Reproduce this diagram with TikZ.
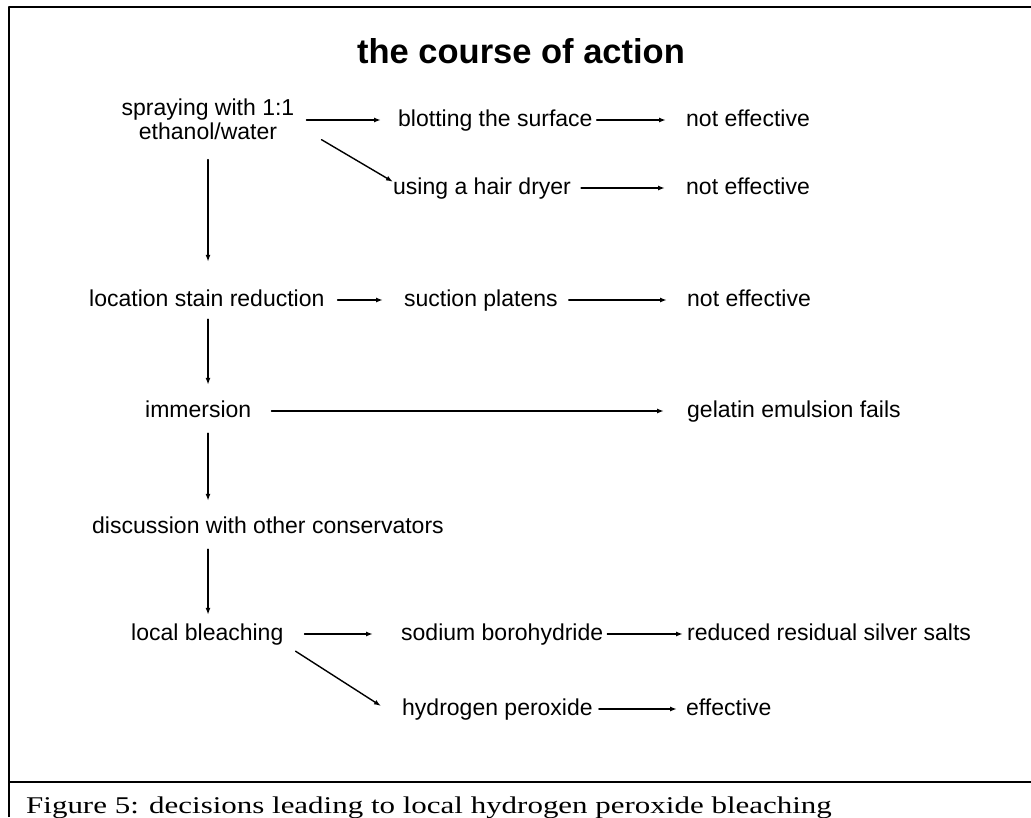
\documentclass[tikz,border=0pt]{standalone}
\usepackage{graphicx}
\usepackage{fontspec}
\setmainfont{Liberation Sans}
\newfontfamily\captionfont{Liberation Serif}
\usetikzlibrary{arrows.meta,positioning}

\begin{document}
\begin{tikzpicture}[x=1pt,y=-1pt,>=Latex,line cap=round,line join=round]
\useasboundingbox[fill=white] (0,0) rectangle (1031,817);
\tikzset{act/.style={anchor=west,inner sep=0pt,font=\fontsize{23}{24}\selectfont,text height=17pt,text depth=5pt},go/.style={draw,line width=1.4pt,-{Latex[length=7pt,width=5pt]}},frame/.style={draw,line width=2pt,line cap=butt}}
\draw[frame] (9,817) -- (9,7) -- (1031,7);
\draw[frame] (9,782) -- (1031,782);
\node[anchor=base,inner sep=0pt,font=\bfseries\fontsize{34.5}{40}\selectfont] (title) at (521,63) {the course of action};
\node[align=center,inner sep=0pt,font=\fontsize{23}{24}\selectfont] (spray) at (208,119) {spraying with 1:1\\ethanol/water};
\node[act] (blot) at (398,120) {blotting the surface};
\node[act] (blotno) at (686,120) {not effective};
\node[act] (dryer) at (393,188) {using a hair dryer};
\node[act] (dryerno) at (686,188) {not effective};
\node[act] (locate) at (89,300) {location stain reduction};
\node[act] (suction) at (404,300) {suction platens};
\node[act] (suctionno) at (687,300) {not effective};
\node[act] (immerse) at (145,411) {immersion};
\node[act] (gelatin) at (687,411) {gelatin emulsion fails};
\node[act] (discuss) at (92,527) {discussion with other conservators};
\node[act] (bleach) at (131,634) {local bleaching};
\node[act] (borohyd) at (401,634) {sodium borohydride};
\node[act] (salts) at (687,634) {reduced residual silver salts};
\node[act] (peroxide) at (402,709) {hydrogen peroxide};
\node[act] (works) at (686,709) {effective};
\draw[go,shorten <=12pt,shorten >=17pt] (spray.east |- blot.west) -- (blot.west);
\draw[go,shorten <=4pt,shorten >=20pt] (blot.east) -- (blotno.west);
\draw[go] ([xshift=27pt]spray.south east) -- ([yshift=-5pt]dryer.north west);
\draw[go,shorten <=10pt,shorten >=21pt] (dryer.east) -- (dryerno.west);
\draw[go,shorten <=20pt,shorten >=27pt] (spray.south) -- (spray.south |- locate.north);
\draw[go,shorten <=13pt,shorten >=21pt] (locate.east) -- (suction.west);
\draw[go,shorten <=11pt,shorten >=20pt] (suction.east) -- (suctionno.west);
\draw[go,shorten <=8pt,shorten >=15pt] (spray.south |- locate.south) -- (spray.south |- immerse.north);
\draw[go,shorten <=20pt,shorten >=23pt] (immerse.east) -- (gelatin.west);
\draw[go,shorten <=11pt,shorten >=15pt] (spray.south |- immerse.south) -- (spray.south |- discuss.north);
\draw[go,shorten <=11pt,shorten >=8pt] (spray.south |- discuss.south) -- (spray.south |- bleach.north);
\draw[go,shorten <=21pt,shorten >=28pt] (bleach.east) -- (borohyd.west);
\draw[go,shorten <=4pt,shorten >=4pt] (borohyd.east) -- (salts.west);
\draw[go] ([xshift=12pt,yshift=-6pt]bleach.south east) -- ([xshift=-21pt,yshift=3pt]peroxide.west);
\draw[go,shorten <=6pt,shorten >=9pt] (peroxide.east) -- (works.west);
\node[anchor=base west,inner sep=0pt,font=\captionfont\fontsize{24}{28}\selectfont] (caption) at (26,813) {\scalebox{1.29}[1]{Figure 5: decisions leading to local hydrogen peroxide bleaching}};
\end{tikzpicture}
\end{document}
